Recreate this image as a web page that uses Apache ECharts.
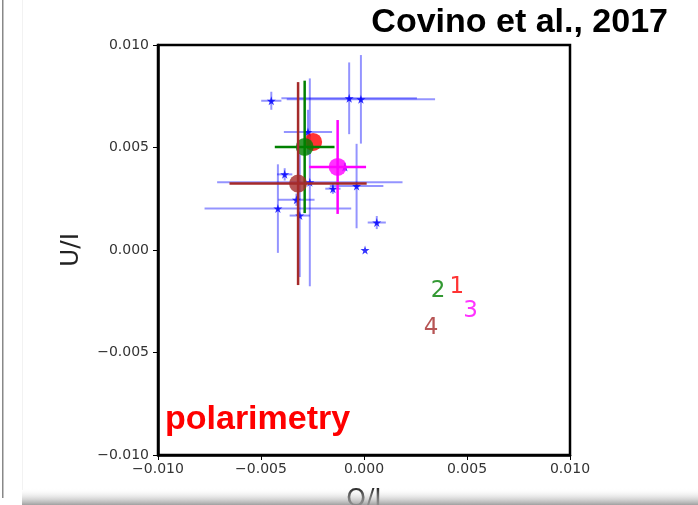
<!DOCTYPE html>
<html style="height: 100%">

<head>
    <meta charset="utf-8">
</head>

<body style="height: 100%; margin: 0; background: #fff">
<div id="container" style="width: 698px; height: 505px"></div>
<script type="text/javascript" src="https://cdn.jsdelivr.net/npm/echarts@6/dist/echarts.min.js"></script>
<script type="text/javascript">
    // individual measurements (blue), Q/I and U/I with their errors
    var blueQ = [-0.00450, -0.00072, -0.00015, -0.00272, -0.00263, -0.00385, -0.00418, -0.00328, -0.00312, -0.00151, -0.00036, 0.00062, -0.00093];
    var blueU = [0.00728, 0.00740, 0.00735, 0.00576, 0.00330, 0.00369, 0.00202, 0.00245, 0.00168, 0.00299, 0.00312, 0.00134, 0.00405];
    var blueQErr = [0.00049, 0.00329, 0.00360, 0.00117, 0.00450, 0.00037, 0.00356, 0.00088, 0.00049, 0.00037, 0.00130, 0.00044, 0.00020];
    var blueUErr = [0.00044, 0.00175, 0.00216, 0.00108, 0.00507, 0.00030, 0.00216, 0.00030, 0.00300, 0.00025, 0.00206, 0.00032, 0.00020];

    // the origin marker
    var zeroQ = [0.00005];
    var zeroU = [0.0000];

    // averages 1..4
    var dotNames = ['1', '2', '3', '4'];
    var dotColors = ['#ff0000', '#008000', '#ff00ff', '#a52a2a'];
    var dotQ = [-0.00247, -0.00288, -0.00128, -0.00320];
    var dotU = [0.00527, 0.00503, 0.00405, 0.00324];
    var dotQErr = [0, 0.00145, 0.00138, 0.00333];
    var dotUErr = [0, 0.00323, 0.00229, 0.00495];

    // position of the number labels
    var labelQ = [0.00450, 0.00360, 0.00517, 0.00325];
    var labelU = [-0.00183, -0.00200, -0.00300, -0.00380];

    var tickFmt = function (v) {
        return (v < 0 ? '\u2212' : '') + Math.abs(v).toFixed(3);
    };

    var starPath = 'path://M50,0 L61,35 L98,35 L68,57 L79,91 L50,70 L21,91 L32,57 L2,35 L39,35 Z';

    function errRender(color, width) {
        return function (params, api) {
            var x = api.value(0), y = api.value(1), ex = api.value(2), ey = api.value(3);
            var h0 = api.coord([x - ex, y]), h1 = api.coord([x + ex, y]);
            var v0 = api.coord([x, y - ey]), v1 = api.coord([x, y + ey]);
            return {
                type: 'group',
                children: [
                    {type: 'line', shape: {x1: h0[0], y1: h0[1], x2: h1[0], y2: h1[1]}, style: {stroke: color, lineWidth: width}},
                    {type: 'line', shape: {x1: v0[0], y1: v0[1], x2: v1[0], y2: v1[1]}, style: {stroke: color, lineWidth: width}}
                ]
            };
        };
    }

    var blueErrData = [], blueData = [];
    for (var i = 0; i < blueQ.length; i++) {
        blueErrData.push([blueQ[i], blueU[i], blueQErr[i], blueUErr[i]]);
        blueData.push([blueQ[i], blueU[i]]);
    }

    var series = [
        {
            type: 'custom',
            renderItem: errRender('rgba(0,0,255,0.42)', 2),
            data: blueErrData,
            silent: true,
            z: 2
        },
        {
            type: 'scatter',
            data: blueData,
            symbol: starPath,
            symbolSize: 9,
            itemStyle: {color: '#0000ff', opacity: 0.8},
            z: 3
        },
        {
            type: 'scatter',
            data: [[zeroQ[0], zeroU[0]]],
            symbol: starPath,
            symbolSize: 9,
            itemStyle: {color: '#0000ff'},
            z: 3
        }
    ];

    for (var k = 0; k < dotNames.length; k++) {
        series.push({
            type: 'custom',
            renderItem: errRender(dotColors[k], 2.5),
            data: [[dotQ[k], dotU[k], dotQErr[k], dotUErr[k]]],
            silent: true,
            z: 4 + k
        });
        series.push({
            type: 'scatter',
            data: [[dotQ[k], dotU[k]]],
            symbol: 'circle',
            symbolSize: 18,
            itemStyle: {color: dotColors[k]},
            z: 4 + k
        });
        series.push({
            type: 'scatter',
            data: [[labelQ[k], labelU[k]]],
            symbolSize: 0,
            label: {
                show: true,
                position: 'inside',
                formatter: dotNames[k],
                fontFamily: 'DejaVu Sans',
                fontSize: 23,
                color: dotColors[k]
            },
            z: 10
        });
    }

    var dom = document.getElementById('container');
    var myChart = echarts.init(dom);
    var option = {
        backgroundColor: '#fff',
        animation: false,
        grid: {
            left: 158, top: 45, width: 412, height: 410,
            outerBoundsMode: 'none', containLabel: false,
            show: true, borderColor: '#000', borderWidth: 2.5, backgroundColor: '#fff'
        },
        xAxis: {
            type: 'value', min: -0.01, max: 0.01, interval: 0.005,
            name: 'Q/I', nameLocation: 'middle', nameGap: 32,
            nameTextStyle: {fontFamily: 'DejaVu Sans', fontSize: 25, color: '#222'},
            axisLine: {show: true, onZero: false, lineStyle: {color: '#000', width: 2.5}},
            axisTick: {show: true, length: 5, lineStyle: {color: '#000'}},
            axisLabel: {formatter: tickFmt, fontFamily: 'DejaVu Sans', fontSize: 14, color: '#333', margin: 7},
            splitLine: {show: false}
        },
        yAxis: {
            type: 'value', min: -0.01, max: 0.01, interval: 0.005,
            name: 'U/I', nameLocation: 'middle', nameGap: 74,
            nameTextStyle: {fontFamily: 'DejaVu Sans', fontSize: 25, color: '#222'},
            axisLine: {show: true, onZero: false, lineStyle: {color: '#000', width: 2.5}},
            axisTick: {show: true, length: 5, lineStyle: {color: '#000'}},
            axisLabel: {formatter: tickFmt, fontFamily: 'DejaVu Sans', fontSize: 14, color: '#333', margin: 9},
            splitLine: {show: false}
        },
        graphic: [
            {type: 'rect', left: 2, top: 0, shape: {width: 1.5, height: 498}, style: {fill: '#888'}},
            {type: 'rect', left: 22, top: 0, shape: {width: 1, height: 490}, style: {fill: '#f2f2f2'}},
            {
                type: 'rect', left: 22, top: 488, shape: {width: 676, height: 17},
                style: {
                    fill: new echarts.graphic.LinearGradient(0, 0, 0, 1, [
                        {offset: 0, color: 'rgba(255,255,255,0)'},
                        {offset: 1, color: 'rgba(150,150,150,0.9)'}
                    ])
                },
                z: 100
            },
            {
                type: 'text', right: 30, top: 6,
                style: {text: 'Covino et al., 2017', font: 'bold 34px "Liberation Sans"', fill: '#000'}
            },
            {
                type: 'text', left: 165, top: 403,
                style: {text: 'polarimetry', font: 'bold 34px "Liberation Sans"', fill: '#ff0000'},
                z: 50
            }
        ],
        series: series
    };
    myChart.setOption(option, true);
</script>
</body>

</html>
